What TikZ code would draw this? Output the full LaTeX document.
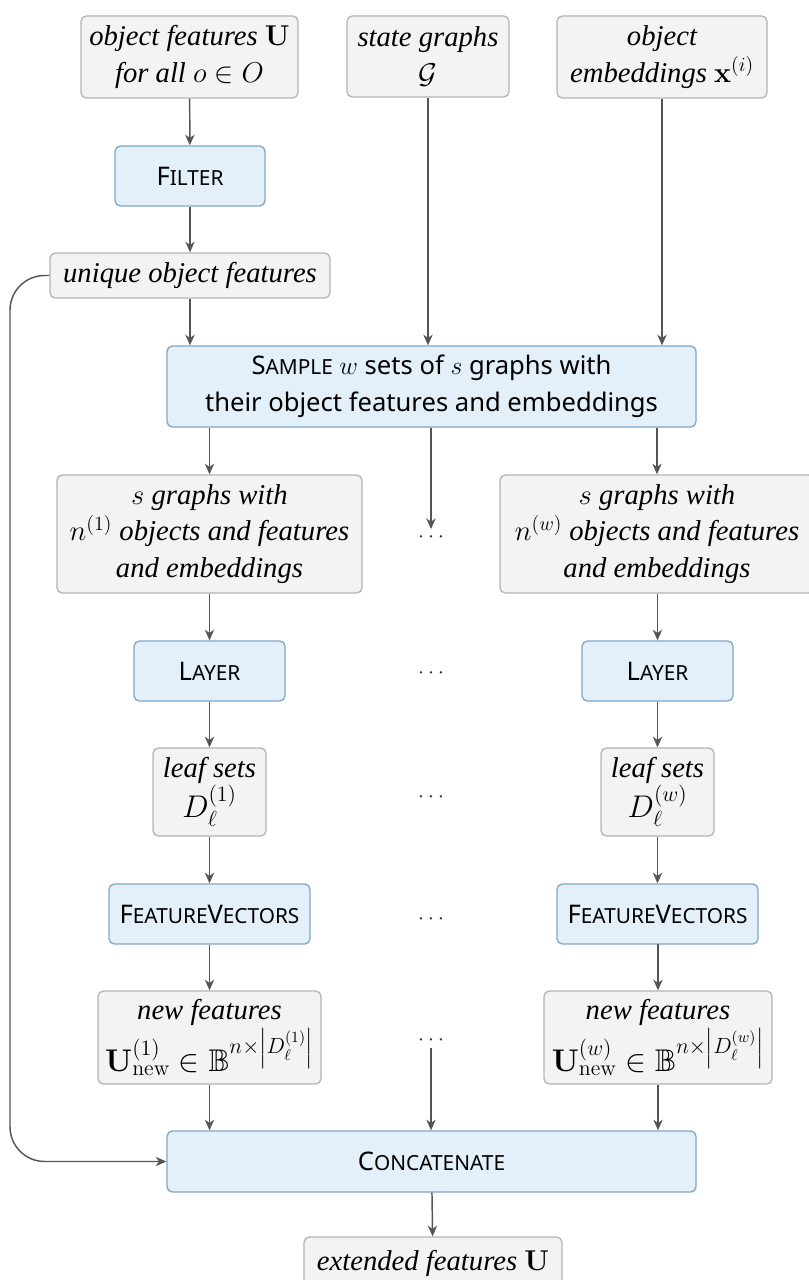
\RequirePackage{fix-cm}
\documentclass[tikz,border=0pt]{standalone}
\usepackage{amssymb}
\usepackage[no-math]{fontspec}
\setmainfont{Liberation Serif}
\setsansfont{Noto Sans}
\usetikzlibrary{arrows.meta}

\definecolor{procfill}{HTML}{E3EFF9}
\definecolor{procdraw}{HTML}{7FA7C8}
\definecolor{datafill}{HTML}{F3F3F3}
\definecolor{datadraw}{HTML}{B4B4B4}
\definecolor{edgecol}{HTML}{555555}

% fake small capitals for the procedure names
\newcommand\smc[1]{{\fontsize{15.6}{15.6}\selectfont #1}}
% slightly enlarged formula line
\newcommand\bigmath[1]{{\fontsize{23.5}{27.5}\selectfont #1}}

\begin{document}
\begin{tikzpicture}[x=0.75pt,y=-0.75pt,
  box/.style={rounded corners=4pt, line width=1pt, align=center, inner sep=0pt},
  proc/.style={box, fill=procfill, draw=procdraw, font=\sffamily\fontsize{19.2}{27.5}\selectfont},
  data/.style={box, fill=datafill, draw=datadraw, font=\itshape\fontsize{21.5}{27.5}\selectfont},
  flow/.style={draw=edgecol, line width=1.1pt, -{Stealth[length=8pt,width=7pt,inset=2.5pt]}},
  gap/.style={font=\fontsize{17}{17}\selectfont, inner sep=2pt, text=black!80}]

\path[use as bounding box] (0,0) rectangle (808,1280);

% inputs
\node[data, minimum width=217*0.75pt, minimum height=82*0.75pt] (objf) at (189.5,57)
  {object features $\mathbf{U}$\\ for all $o\in O$};
\node[data, minimum width=162*0.75pt, minimum height=81*0.75pt] (sg) at (428,56.5)
  {state graphs\\ $\mathcal{G}$};
\node[data, minimum width=210*0.75pt, minimum height=82*0.75pt] (emb) at (662,57)
  {object\\ embeddings $\mathbf{x}^{(i)}$};

\node[proc, minimum width=150*0.75pt, minimum height=60*0.75pt] (filter) at (190,176)
  {F\smc{ILTER}};
\node[data, minimum width=280*0.75pt, minimum height=45*0.75pt] (uniq) at (190,275.5)
  {unique object features};

\node[proc, minimum width=529*0.75pt, minimum height=81*0.75pt] (sample) at (431.5,386.5)
  {S\smc{AMPLE} $w$ sets of $s$ graphs with\\ their object features and embeddings};

% first and last sample branch
\node[data, minimum width=305*0.75pt, minimum height=118*0.75pt] (g1) at (209.5,534)
  {$s$ graphs with\\ $n^{(1)}$ objects and features\\ and embeddings};
\node[data, minimum width=314*0.75pt, minimum height=118*0.75pt] (gw) at (657,534)
  {$s$ graphs with\\ $n^{(w)}$ objects and features\\ and embeddings};

\node[proc, minimum width=151*0.75pt, minimum height=60*0.75pt] (l1) at (209.5,671) {L\smc{AYER}};
\node[proc, minimum width=151*0.75pt, minimum height=60*0.75pt] (lw) at (657.5,671) {L\smc{AYER}};

\node[data, minimum width=113*0.75pt, minimum height=88*0.75pt] (d1) at (209.5,792)
  {leaf sets\\ \bigmath{$D_\ell^{(1)}$}};
\node[data, minimum width=113*0.75pt, minimum height=88*0.75pt] (dw) at (657.5,792)
  {leaf sets\\ \bigmath{$D_\ell^{(w)}$}};

\node[proc, minimum width=201*0.75pt, minimum height=60*0.75pt] (f1) at (209.5,914)
  {F\smc{EATURE}V\smc{ECTORS}};
\node[proc, minimum width=201*0.75pt, minimum height=60*0.75pt] (fw) at (657.5,914)
  {F\smc{EATURE}V\smc{ECTORS}};

\node[data, minimum width=223*0.75pt, minimum height=93*0.75pt] (n1) at (209.5,1037.5)
  {new features\\[1pt] \bigmath{$\mathbf{U}^{(1)}_{\mathrm{new}}\in\mathbb{B}^{n\times\left|D_\ell^{(1)}\right|}$}};
\node[data, minimum width=228*0.75pt, minimum height=93*0.75pt] (nw) at (658,1037.5)
  {new features\\[1pt] \bigmath{$\mathbf{U}^{(w)}_{\mathrm{new}}\in\mathbb{B}^{n\times\left|D_\ell^{(w)}\right|}$}};

% elided middle branches
\node[gap] (m1) at (431,537) {$\cdots$};
\node[gap] (m2) at (431,673) {$\cdots$};
\node[gap] (m3) at (431,797) {$\cdots$};
\node[gap] (m4) at (431,919) {$\cdots$};
\node[gap] (m5) at (431,1040) {$\cdots$};

\node[proc, minimum width=529*0.75pt, minimum height=61*0.75pt] (concat) at (431.5,1161.5)
  {C\smc{ONCATENATE}};
\node[data, minimum width=258*0.75pt, minimum height=52*0.75pt] (ext) at (433,1263)
  {extended features $\mathbf{U}$};

\coordinate (loopx) at (10,0);

% connectors
\draw[flow] (objf) -- (filter);
\draw[flow] (filter) -- (uniq);
\draw[flow] (uniq.south) -- (uniq.south |- sample.north);
\draw[flow] (sg.south) -- (sg.south |- sample.north);
\draw[flow] (emb.south) -- (emb.south |- sample.north);

\draw[flow] (sample.south -| g1.north) -- (g1.north);
\draw[flow] (sample.south -| m1.north) -- (m1.north);
\draw[flow] (sample.south -| gw.north) -- (gw.north);

\draw[flow] (g1) -- (l1);
\draw[flow] (l1) -- (d1);
\draw[flow] (d1) -- (f1);
\draw[flow] (f1) -- (n1);
\draw[flow] (n1.south) -- (n1.south |- concat.north);

\draw[flow] (gw.south -| lw.north) -- (lw.north);
\draw[flow] (lw) -- (dw);
\draw[flow] (dw) -- (fw);
\draw[flow] (fw.south) -- (fw.south -| nw.north) -- (nw.north);
\draw[flow] (nw.south) -- (nw.south |- concat.north);

\draw[flow] (m5.south) -- (m5.south |- concat.north);
\draw[flow] (concat) -- (ext);

\draw[flow, rounded corners=26pt] (uniq.west) -| (loopx |- concat.west) -- (concat.west);
\end{tikzpicture}
\end{document}
